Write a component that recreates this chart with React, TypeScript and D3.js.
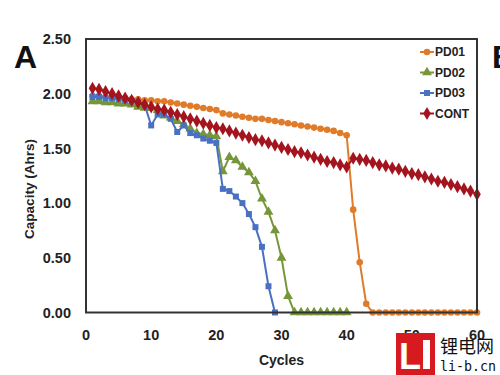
import React from "react";
import * as d3 from "d3";

const cycles60 = d3.range(1, 61);

const pd01 = [1.98, 1.98, 1.97, 1.97, 1.96, 1.96, 1.95, 1.95, 1.94, 1.94,
  1.93, 1.93, 1.92, 1.91, 1.9, 1.89, 1.88, 1.87, 1.86, 1.85,
  1.82, 1.81, 1.8, 1.79, 1.78, 1.77, 1.77, 1.76, 1.75, 1.74,
  1.73, 1.72, 1.71, 1.7, 1.69, 1.68, 1.67, 1.66, 1.64, 1.62,
  0.94, 0.46, 0.08, 0, 0, 0, 0, 0, 0, 0,
  0, 0, 0, 0, 0, 0, 0, 0, 0, 0];

const pd02 = [1.93, 1.93, 1.92, 1.92, 1.91, 1.91, 1.9, 1.88, 1.87, 1.87,
  1.85, 1.8, 1.78, 1.75, 1.72, 1.68, 1.64, 1.63, 1.62, 1.61,
  1.29, 1.42, 1.39, 1.33, 1.28, 1.2, 1.04, 0.92, 0.75, 0.5,
  0.15, 0, 0, 0, 0, 0, 0, 0, 0, 0];

const pd03 = [1.97, 1.97, 1.96, 1.96, 1.95, 1.94, 1.93, 1.92, 1.9, 1.71,
  1.81, 1.81, 1.77, 1.65, 1.71, 1.64, 1.62, 1.59, 1.57, 1.55,
  1.13, 1.11, 1.06, 1.0, 0.9, 0.78, 0.6, 0.24, 0];

const cont = [2.05, 2.04, 2.02, 2.0, 1.98, 1.96, 1.94, 1.92, 1.9, 1.88,
  1.86, 1.85, 1.83, 1.81, 1.79, 1.77, 1.75, 1.73, 1.71, 1.69,
  1.68, 1.66, 1.64, 1.62, 1.6, 1.58, 1.57, 1.55, 1.53, 1.51,
  1.49, 1.47, 1.46, 1.44, 1.42, 1.4, 1.38, 1.37, 1.35, 1.33,
  1.41, 1.4, 1.39, 1.37, 1.35, 1.34, 1.32, 1.31, 1.29, 1.27,
  1.26, 1.24, 1.22, 1.2, 1.19, 1.17, 1.15, 1.13, 1.11, 1.08];

const seriesNames = ["PD01", "PD02", "PD03", "CONT"];
const seriesColors = ["#E07B2A", "#76963A", "#4A70C2", "#A3141E"];
const yTicks = [0, 0.5, 1, 1.5, 2, 2.5];
const xTicks = [0, 10, 20, 30, 40, 50, 60];

const FONT = "'Liberation Sans', Arial, sans-serif";

export default function App() {
  const W = 500, H = 375;
  const left = 86, right = 477, top = 39, bottom = 312.5;
  const x = d3.scaleLinear().domain([0, 60]).range([left, right]);
  const y = d3.scaleLinear().domain([0, 2.5]).range([bottom, top]);

  const allData = [pd01, pd02, pd03, cont];
  const symbols = [d3.symbolCircle, d3.symbolTriangle, d3.symbolSquare, d3.symbolDiamond];
  const sizes = [34, 42, 36, 50];

  const line = d3.line<[number, number]>().x(d => x(d[0])).y(d => y(d[1]));

  return (
    <svg width={W} height={H} style={{ display: "block", position: "absolute", left: 0, top: 0 }}>
      <rect x={0} y={0} width={W} height={H} fill="#fff" />
      {/* panel letters */}
      <text x={14} y={68} fontFamily={FONT} fontWeight="bold" fontSize={32} fill="#111">A</text>
      <text x={492} y={68} fontFamily={FONT} fontWeight="bold" fontSize={32} fill="#111">B</text>

      {/* y ticks */}
      {yTicks.map(t => (
        <text key={t} x={71} y={y(t)} dy="0.36em" textAnchor="end" fontFamily={FONT}
          fontWeight="bold" fontSize={14.5} fill="#222">{t.toFixed(2)}</text>
      ))}
      {/* x ticks */}
      {xTicks.map(t => (
        <text key={t} x={x(t)} y={340} textAnchor="middle" fontFamily={FONT}
          fontWeight="bold" fontSize={14.5} fill="#222">{t}</text>
      ))}
      <text x={(left + right) / 2} y={365} textAnchor="middle" fontFamily={FONT}
        fontWeight="bold" fontSize={14} fill="#222">Cycles</text>
      <text transform={`translate(34,189) rotate(-90)`} textAnchor="middle" fontFamily={FONT}
        fontWeight="bold" fontSize={13.5} fill="#222">Capacity (Ahrs)</text>

      {/* series */}
      {allData.map((vals, i) => {
        const data = vals.map((v, k) => [cycles60[k], v] as [number, number]);
        const sym = d3.symbol().type(symbols[i]).size(sizes[i])();
        return (
          <g key={i}>
            <path d={line(data) || ""} fill="none" stroke={seriesColors[i]} strokeWidth={2} />
            {data.map((d, k) => (
              <path key={k} d={sym || ""} transform={`translate(${x(d[0])},${y(d[1])})`}
                fill={seriesColors[i]} />
            ))}
          </g>
        );
      })}

      {/* frame */}
      <rect x={left} y={top} width={right - left} height={bottom - top} fill="none"
        stroke="#333" strokeWidth={2} />

      {/* legend */}
      {seriesNames.map((n, i) => {
        const ly = 52 + i * 20.5;
        const sym = d3.symbol().type(symbols[i]).size(sizes[i])();
        return (
          <g key={n}>
            <line x1={420} x2={434} y1={ly} y2={ly} stroke={seriesColors[i]} strokeWidth={2} />
            <path d={sym || ""} transform={`translate(427,${ly})`} fill={seriesColors[i]} />
            <text x={435} y={ly} dy="0.36em" fontFamily={FONT} fontWeight="bold" fontSize={12}
              fill="#222">{n}</text>
          </g>
        );
      })}

      {/* watermark */}
      <g>
        <rect x={396} y={333} width={39} height={42} fill="#D71920" />
        <text x={399} y={369} fontFamily={FONT} fontWeight="bold" fontSize={36} fill="#fff">L</text>
        <rect x={423} y={340} width={7} height={29} fill="#fff" />
        <text x={440} y={353} fontFamily="'Noto Sans CJK SC', sans-serif" fontSize={18} fill="#111">锂电网</text>
        <text x={440} y={371} fontFamily="'DejaVu Sans Mono', monospace" fontSize={14}
          textLength={56} lengthAdjust="spacingAndGlyphs" fill="#111">li-b.cn</text>
      </g>
    </svg>
  );
}
